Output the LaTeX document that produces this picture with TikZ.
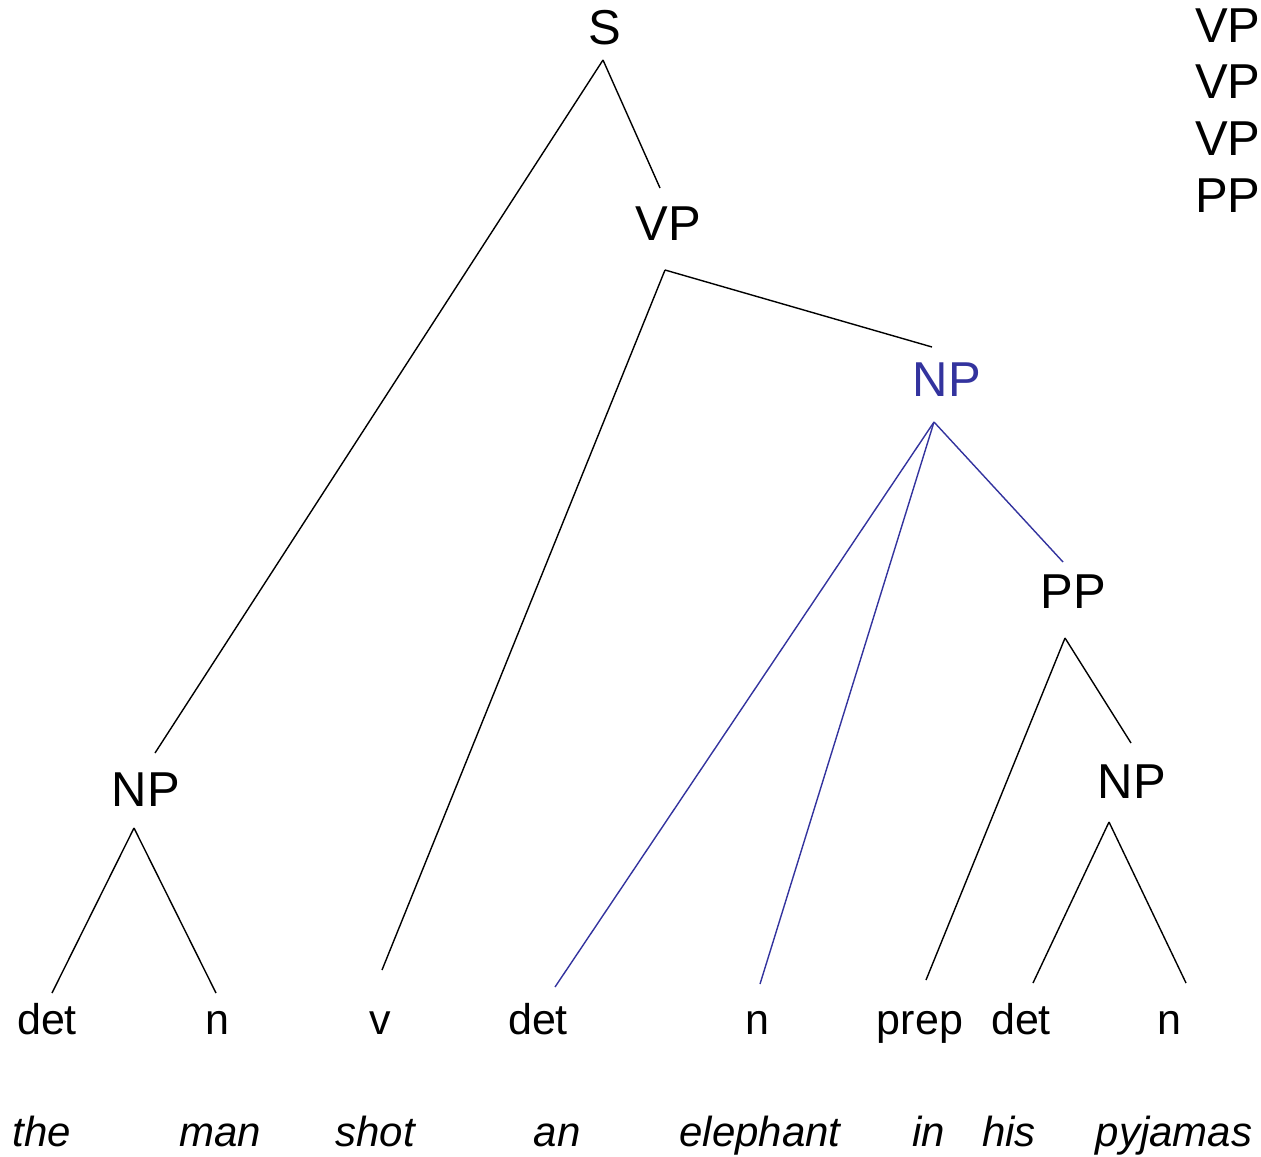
\documentclass[tikz,border=0pt]{standalone}
\usepackage{fontspec}
\setmainfont{Liberation Sans}
\definecolor{npblue}{RGB}{51,51,158}
\begin{document}
\begin{tikzpicture}[x=0.5pt,y=-0.5pt,
  catlbl/.style={inner sep=0pt,anchor=base,font=\fontsize{24.5}{29}\selectfont},
  poslbl/.style={inner sep=0pt,anchor=base,font=\fontsize{21.5}{26}\selectfont},
  wordlbl/.style={inner sep=0pt,anchor=base,font=\fontsize{21}{25}\selectfont\itshape},
  blackln/.style={line width=0.7pt,black},
  blueln/.style={line width=0.7pt,npblue}]
\useasboundingbox (0,0) rectangle (1261,1156);
% category nodes
\node[catlbl] (S) at (605,45) {S};
\node[catlbl] (VP) at (668,240) {VP};
\node[catlbl,text=npblue] (NPb) at (947,396) {NP};
\node[catlbl] (PP) at (1073,608) {PP};
\node[catlbl] (NPr) at (1132,798) {NP};
\node[catlbl] (NPl) at (146,806) {NP};
% top-right stack
\node[catlbl,anchor=base east] (r1) at (1261,43) {VP};
\node[catlbl,anchor=base east] (r2) at (1261,98) {VP};
\node[catlbl,anchor=base east] (r3) at (1261,155) {VP};
\node[catlbl,anchor=base east] (r4) at (1261,212) {PP};
% parts of speech
\node[poslbl] (det1) at (47,1034) {det};
\node[poslbl] (n1) at (217,1034) {n};
\node[poslbl] (v) at (380,1034) {v};
\node[poslbl] (det2) at (538,1034) {det};
\node[poslbl] (n2) at (757,1034) {n};
\node[poslbl] (prep) at (920,1034) {prep};
\node[poslbl] (det3) at (1021,1034) {det};
\node[poslbl] (n3) at (1169,1034) {n};
% words
\node[wordlbl] (w1) at (42,1146) {the};
\node[wordlbl] (w2) at (220,1146) {man};
\node[wordlbl] (w3) at (375,1146) {shot};
\node[wordlbl] (w4) at (557,1146) {an};
\node[wordlbl] (w5) at (760,1146) {elephant};
\node[wordlbl] (w6) at (929,1146) {in};
\node[wordlbl] (w7) at (1009,1146) {his};
\node[wordlbl] (w8) at (1174,1146) {pyjamas};
% connector end points
\coordinate (S-b) at (603,60);
\coordinate (VP-t) at (660,188);
\coordinate (VP-b) at (665,270);
\coordinate (NPb-t) at (932,347);
\coordinate (NPb-b) at (934,422);
\coordinate (PP-t) at (1063,562);
\coordinate (PP-b) at (1065,638);
\coordinate (NPr-t) at (1131,743);
\coordinate (NPr-b) at (1109,822);
\coordinate (NPl-t) at (155,753);
\coordinate (NPl-b) at (134,828);
\coordinate (det1-t) at (52,993);
\coordinate (n1-t) at (216,993);
\coordinate (v-t) at (382,970);
\coordinate (det2-t) at (555,987);
\coordinate (n2-t) at (760,984);
\coordinate (prep-t) at (926,980);
\coordinate (det3-t) at (1033,983);
\coordinate (n3-t) at (1186,983);
% connectors
\draw[blackln] (S-b) -- (NPl-t);
\draw[blackln] (S-b) -- (VP-t);
\draw[blackln] (VP-b) -- (v-t);
\draw[blackln] (VP-b) -- (NPb-t);
\draw[blueln] (NPb-b) -- (det2-t);
\draw[blueln] (NPb-b) -- (n2-t);
\draw[blueln] (NPb-b) -- (PP-t);
\draw[blackln] (PP-b) -- (prep-t);
\draw[blackln] (PP-b) -- (NPr-t);
\draw[blackln] (NPr-b) -- (det3-t);
\draw[blackln] (NPr-b) -- (n3-t);
\draw[blackln] (NPl-b) -- (det1-t);
\draw[blackln] (NPl-b) -- (n1-t);
\end{tikzpicture}
\end{document}
